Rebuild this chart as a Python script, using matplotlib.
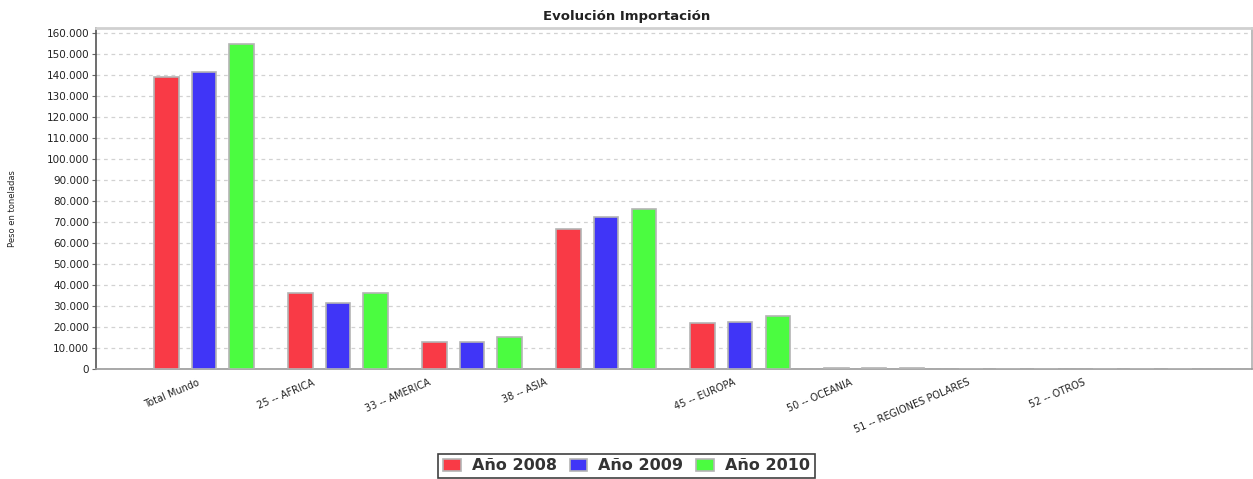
import matplotlib
matplotlib.use('Agg')
import matplotlib.pyplot as plt
import matplotlib.transforms as mtransforms
from matplotlib.ticker import FuncFormatter, MultipleLocator
import numpy as np

# Datos (toneladas)
categorias = ['Total Mundo', '25 -- AFRICA', '33 -- AMERICA', '38 -- ASIA',
              '45 -- EUROPA', '50 -- OCEANIA', '51 -- REGIONES POLARES', '52 -- OTROS']
anio_2008 = [139200, 36000, 12900, 66500, 21700, 600, 0, 0]
anio_2009 = [141600, 31600, 12800, 72200, 22400, 500, 0, 0]
anio_2010 = [154600, 36000, 15400, 76000, 25100, 450, 0, 0]
series = ['Año 2008', 'Año 2009', 'Año 2010']
colores = ['#f93a46', '#4035f7', '#4bfc40']

# desplazamiento horizontal de cada etiqueta (px), como en el original
desplaz_etiquetas = [-7, -26, -44, -61, -7, -24, -41, -59]

fig = plt.figure(figsize=(12.53, 4.79), dpi=100)
ax = fig.add_axes([0.0766, 0.2296, 0.9226, 0.7119])

x = np.arange(len(categorias))
ancho = 0.18
sep = 0.28
for i, (vals, nombre, col) in enumerate(zip([anio_2008, anio_2009, anio_2010], series, colores)):
    ax.bar(x + (i - 1) * sep, vals, width=ancho, color=col, edgecolor='#b4b4b4',
           linewidth=1.2, label=nombre, zorder=3)

ax.set_xlim(-0.806, 7.82)
ax.set_ylim(0, 162400)
ax.yaxis.set_major_locator(MultipleLocator(10000))
ax.yaxis.set_major_formatter(FuncFormatter(lambda v, p: f'{v:,.0f}'.replace(',', '.')))
ax.tick_params(axis='y', labelsize=7.5, length=3, width=0.8, color='#666666', pad=2, labelcolor='#222222')

ax.set_xticks(x)
ax.set_xticklabels(categorias, fontsize=7, rotation=23, ha='right', rotation_mode='anchor', color='#222222')
ax.tick_params(axis='x', length=0, pad=6)
for lbl, dx in zip(ax.get_xticklabels(), desplaz_etiquetas):
    lbl.set_transform(lbl.get_transform() + mtransforms.ScaledTranslation(dx / 100, 0, fig.dpi_scale_trans))

ax.grid(axis='y', color='#d2d2d2', linestyle=(0, (3, 3)), linewidth=0.9, zorder=0)
ax.set_axisbelow(True)

ax.spines['left'].set_color('#555555')
ax.spines['left'].set_linewidth(1.2)
ax.spines['bottom'].set_color('#999999')
ax.spines['bottom'].set_linewidth(1.2)
ax.spines['top'].set_color('#d0d0d0')
ax.spines['top'].set_linewidth(2)
ax.spines['right'].set_color('#b0b0b0')
ax.spines['right'].set_linewidth(1.2)

ax.set_ylabel('Peso en toneladas', fontsize=6, color='#222222', labelpad=19)
ax.yaxis.set_label_coords(-0.068, 0.47)
fig.suptitle('Evolución Importación', fontsize=9.5, fontweight='bold', y=0.98, x=0.5, color='#222222')

leg = fig.legend(loc='lower center', bbox_to_anchor=(0.5, 0.0), ncol=3, frameon=True,
                 fancybox=False, prop={'size': 11.5, 'weight': 'bold'}, handlelength=1.1,
                 handleheight=0.75, handletextpad=0.7, columnspacing=0.8, borderpad=0.3,
                 borderaxespad=0.05)
leg.get_frame().set_edgecolor('#111111')
leg.get_frame().set_linewidth(1.2)
for t in leg.get_texts():
    t.set_color('#333333')

fig.savefig('out.png', dpi=100)
